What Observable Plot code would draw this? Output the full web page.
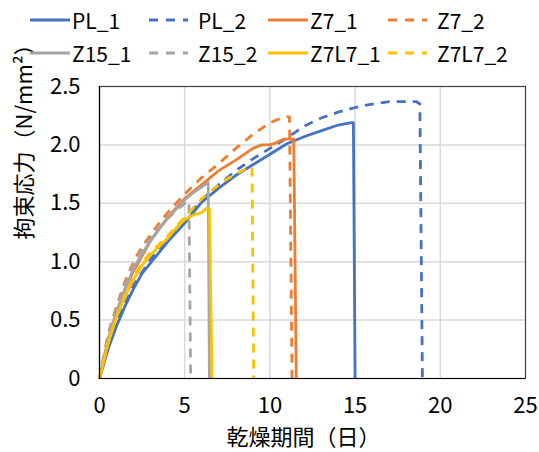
<!DOCTYPE html>
<html>
<head>
<meta charset="utf-8">
<script src="https://cdn.jsdelivr.net/npm/d3@7"></script>
<script src="https://cdn.jsdelivr.net/npm/@observablehq/plot@0.6"></script>
<style>
  html, body { margin: 0; padding: 0; background: #fff; }
  #wrap { width: 539px; height: 452px; position: relative; font-family: 'Noto Sans CJK JP', 'Noto Sans', sans-serif; }
  #legend { position: relative; width: 539px; height: 70px; }
  .item { position: absolute; display: flex; align-items: center; font-size: 21px; color: #000; height: 24px; }
  .item svg { display: block; }
</style>
</head>
<body>
<div id="wrap">
  <div id="legend"></div>
  <div id="chart"></div>
</div>
<script>
// ---- data ----
const seriesNames = ["PL_1", "PL_2", "Z7_1", "Z7_2", "Z15_1", "Z15_2", "Z7L7_1", "Z7L7_2"];
const seriesColors = ["#4472C4", "#4472C4", "#ED7D31", "#ED7D31", "#A5A5A5", "#A5A5A5", "#FFC000", "#FFC000"];
const seriesDashed = [false, true, false, true, false, true, false, true];

const pl1X = [0, 0.5, 1, 1.5, 2, 2.5, 3, 4, 5, 6, 7, 8, 9, 10, 11, 12, 13, 14, 14.8, 14.9, 15.0];
const pl1Y = [0, 0.25, 0.45, 0.62, 0.77, 0.9, 0.99, 1.17, 1.33, 1.51, 1.63, 1.74, 1.83, 1.92, 2.01, 2.07, 2.12, 2.17, 2.19, 2.19, 0];

const pl2X = [0, 0.5, 1, 2, 3, 4, 5, 6, 7, 8, 9, 10, 11, 11.5, 12, 13, 14, 15, 16, 17, 18, 18.6, 18.8, 18.95];
const pl2Y = [0, 0.27, 0.48, 0.8, 1.02, 1.2, 1.36, 1.53, 1.66, 1.78, 1.88, 1.97, 2.06, 2.11, 2.16, 2.23, 2.28, 2.32, 2.35, 2.37, 2.37, 2.37, 2.35, 0];

const z71X = [0, 0.5, 1, 1.5, 2, 3, 4, 5, 6, 7, 8, 9, 9.5, 10, 10.4, 10.8, 11.4, 11.55];
const z71Y = [0, 0.33, 0.57, 0.76, 0.92, 1.18, 1.38, 1.54, 1.66, 1.78, 1.87, 1.97, 2.0, 2.0, 2.02, 2.05, 2.05, 0];

const z72X = [0, 0.5, 1, 1.5, 2, 2.5, 3, 3.5, 4, 4.5, 5, 6, 7, 8, 9, 10, 10.5, 11, 11.15, 11.3];
const z72Y = [0, 0.38, 0.62, 0.83, 1.0, 1.13, 1.23, 1.33, 1.42, 1.5, 1.58, 1.72, 1.84, 1.97, 2.09, 2.19, 2.22, 2.24, 2.24, 0];

const z151X = [0, 0.5, 1, 1.5, 2, 2.5, 3, 3.5, 4, 4.5, 5, 5.5, 6, 6.38, 6.45];
const z151Y = [0, 0.33, 0.57, 0.77, 0.94, 1.07, 1.18, 1.28, 1.37, 1.45, 1.53, 1.59, 1.64, 1.68, 0];

const z152X = [0, 0.5, 1, 1.5, 2, 2.5, 3, 3.5, 4, 4.5, 5, 5.25, 5.35];
const z152Y = [0, 0.36, 0.6, 0.8, 0.97, 1.1, 1.2, 1.29, 1.37, 1.44, 1.5, 1.52, 0];

const z7l71X = [0, 0.5, 1, 1.5, 2, 2.5, 3, 3.5, 4, 4.5, 5, 5.5, 6, 6.3, 6.45, 6.6];
const z7l71Y = [0, 0.3, 0.53, 0.7, 0.85, 0.97, 1.06, 1.13, 1.2, 1.29, 1.36, 1.4, 1.42, 1.46, 1.45, 0];

const z7l72X = [0, 0.5, 1, 1.5, 2, 2.5, 3, 3.5, 4, 4.5, 5, 5.5, 6, 6.5, 7, 7.5, 8, 8.5, 8.95, 9.05];
const z7l72Y = [0, 0.3, 0.53, 0.72, 0.87, 0.99, 1.08, 1.15, 1.22, 1.3, 1.38, 1.46, 1.54, 1.6, 1.66, 1.71, 1.75, 1.79, 1.81, 0];

const xTicks = [0, 5, 10, 15, 20, 25];
const yTicks = [0, 0.5, 1.0, 1.5, 2.0, 2.5];
const yTickLabels = ["0", "0.5", "1.0", "1.5", "2.0", "2.5"];
const xTitle = "乾燥期間（日）";
const yTitle = "拘束応力（N/mm²）";

const seriesXs = [pl1X, pl2X, z71X, z72X, z151X, z152X, z7l71X, z7l72X];
const seriesYs = [pl1Y, pl2Y, z71Y, z72Y, z151Y, z152Y, z7l71Y, z7l72Y];

// ---- legend (HTML, above the SVG) ----
const legendPos = [[30, 20], [148, 20], [268, 20], [387, 20], [30, 53], [148, 53], [268, 53], [387, 53]];
const legend = document.getElementById("legend");
seriesNames.forEach((name, i) => {
  const d = document.createElement("div");
  d.className = "item";
  d.style.left = legendPos[i][0] + "px";
  d.style.top = (legendPos[i][1] - 12) + "px";
  const w = 40;
  d.innerHTML = `<svg width="${w}" height="24"><line x1="0" x2="${w}" y1="12" y2="12" stroke="${seriesColors[i]}" stroke-width="3" ${seriesDashed[i] ? 'stroke-dasharray="9,8" stroke-dashoffset="-1"' : ''}/></svg><span style="margin-left:${seriesDashed[i] ? 10 : 2}px">${name}</span>`;
  legend.appendChild(d);
});

// ---- chart ----
const marks = [
  Plot.ruleX(xTicks.filter(v => v > 0 && v < 25), {stroke: "#d9d9d9", strokeWidth: 1.5}),
  Plot.ruleY(yTicks.filter(v => v > 0 && v < 2.5), {stroke: "#d9d9d9", strokeWidth: 1.5}),
];
seriesNames.forEach((name, i) => {
  const rows = seriesXs[i].map((x, j) => ({x, y: seriesYs[i][j], s: name}));
  marks.push(Plot.line(rows, {
    x: "x", y: "y",
    stroke: seriesColors[i],
    strokeWidth: 2.8,
    strokeDasharray: seriesDashed[i] ? "9,7" : null,
    strokeLinejoin: "round",
    strokeLinecap: "butt",
    curve: "linear"
  }));
});
marks.push(
  Plot.frame({stroke: "#404040", strokeWidth: 1.2}),
  Plot.ruleX([0], {stroke: "#000", strokeWidth: 1.2}),
  Plot.ruleY([0], {stroke: "#000", strokeWidth: 1.2}),
  Plot.axisX({ticks: xTicks, tickSize: 0, tickPadding: 19, fontSize: 22, label: null}),
  Plot.axisY({ticks: yTicks, tickSize: 0, tickPadding: 19, fontSize: 22, label: null,
    tickFormat: (d) => yTickLabels[yTicks.indexOf(d)]}),
  Plot.text([xTitle], {frameAnchor: "bottom", dy: 59, dx: -9, text: d => d, fontSize: 22, lineAnchor: "middle"}),
  Plot.text([yTitle], {frameAnchor: "left", dx: -75, dy: 7, rotate: -90, text: d => d, fontSize: 22})
);

const chart = Plot.plot({
  width: 539,
  height: 382,
  marginTop: 16,
  marginBottom: 74,
  marginLeft: 99,
  marginRight: 14,
  x: {domain: [0, 25]},
  y: {domain: [0, 2.5]},
  style: {fontFamily: "'Noto Sans CJK JP', 'Noto Sans', sans-serif", color: "#000", background: "#fff", overflow: "visible"},
  marks
});
document.getElementById("chart").appendChild(chart);
</script>
</body>
</html>
